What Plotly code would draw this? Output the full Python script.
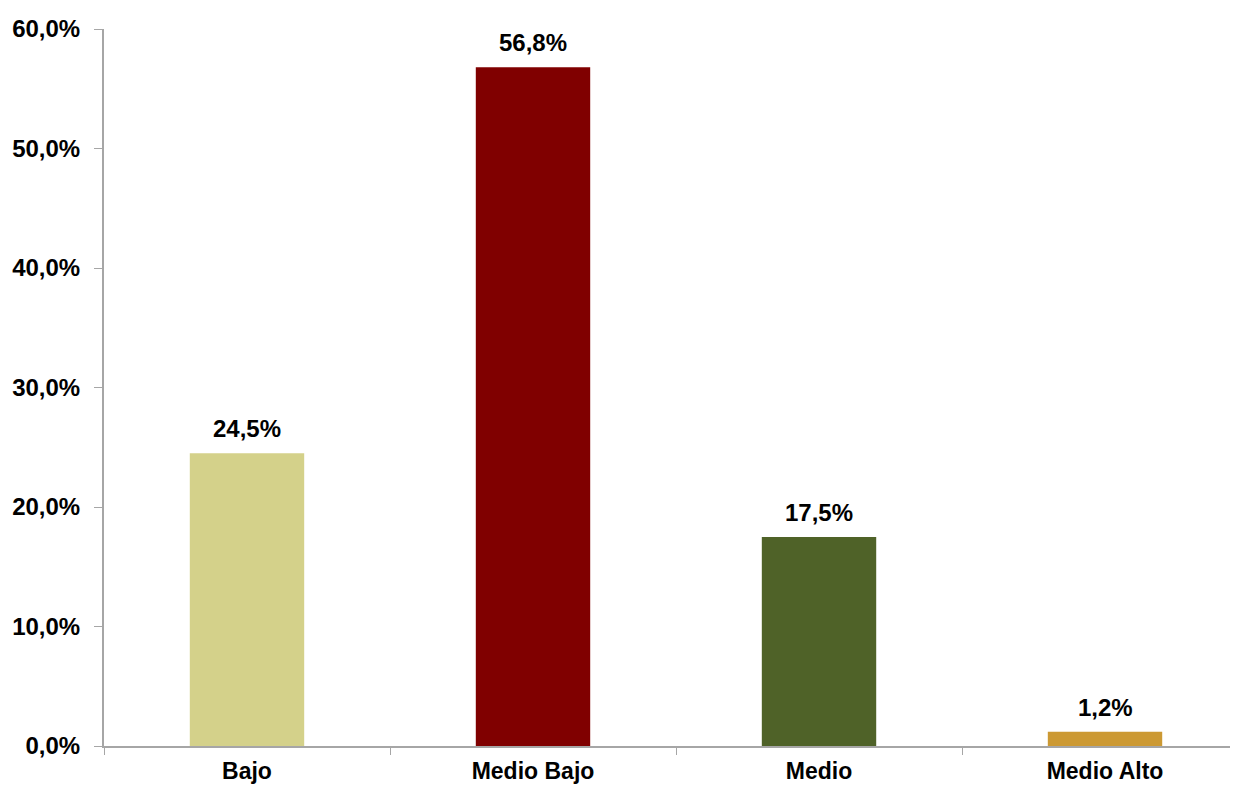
import plotly.graph_objects as go

categories = ["Bajo", "Medio Bajo", "Medio", "Medio Alto"]
values = [24.5, 56.8, 17.5, 1.2]
labels = ["24,5%", "56,8%", "17,5%", "1,2%"]
colors = ["#D4D18A", "#800000", "#4F6228", "#CC9933"]
y_ticks = [0, 10, 20, 30, 40, 50, 60]
y_ticktext = ["0,0%", "10,0%", "20,0%", "30,0%", "40,0%", "50,0%", "60,0%"]

FONT = "Liberation Sans, Arial, sans-serif"

fig = go.Figure()
fig.add_trace(go.Bar(
    x=categories, y=values, marker=dict(color=colors, line=dict(width=0)),
    width=0.4, cliponaxis=False,
))
for c, v, t in zip(categories, values, labels):
    fig.add_annotation(
        x=c, y=v, text=t, showarrow=False, yanchor="bottom", yshift=9,
        font=dict(family=FONT, size=24, color="#000000", weight="bold"),
    )

fig.update_layout(
    width=1230, height=777,
    margin=dict(l=96, r=0, t=21, b=39),
    paper_bgcolor="white", plot_bgcolor="white",
    showlegend=False,
    font=dict(family=FONT, size=24, color="#000000"),
    bargap=0.6,
)
fig.update_xaxes(
    range=[-0.5, 3.465], showgrid=False, showline=True, linecolor="#A6A6A6", linewidth=2,
    ticks="outside", tickson="boundaries", ticklen=7, tickcolor="#A6A6A6", tickwidth=1,
    ticklabelstandoff=3, automargin=False,
    tickfont=dict(family=FONT, size=23, color="#000000", weight="bold"),
)
fig.update_yaxes(
    range=[0, 60], showgrid=False, showline=True, linecolor="#A6A6A6", linewidth=2,
    tickvals=y_ticks, ticktext=y_ticktext, ticks="outside", ticklen=8,
    tickcolor="#A6A6A6", tickwidth=1, zeroline=False, ticklabelstandoff=9,
    automargin=False,
    tickfont=dict(family=FONT, size=24, color="#000000", weight="bold"),
)

fig.write_html("out.html")
